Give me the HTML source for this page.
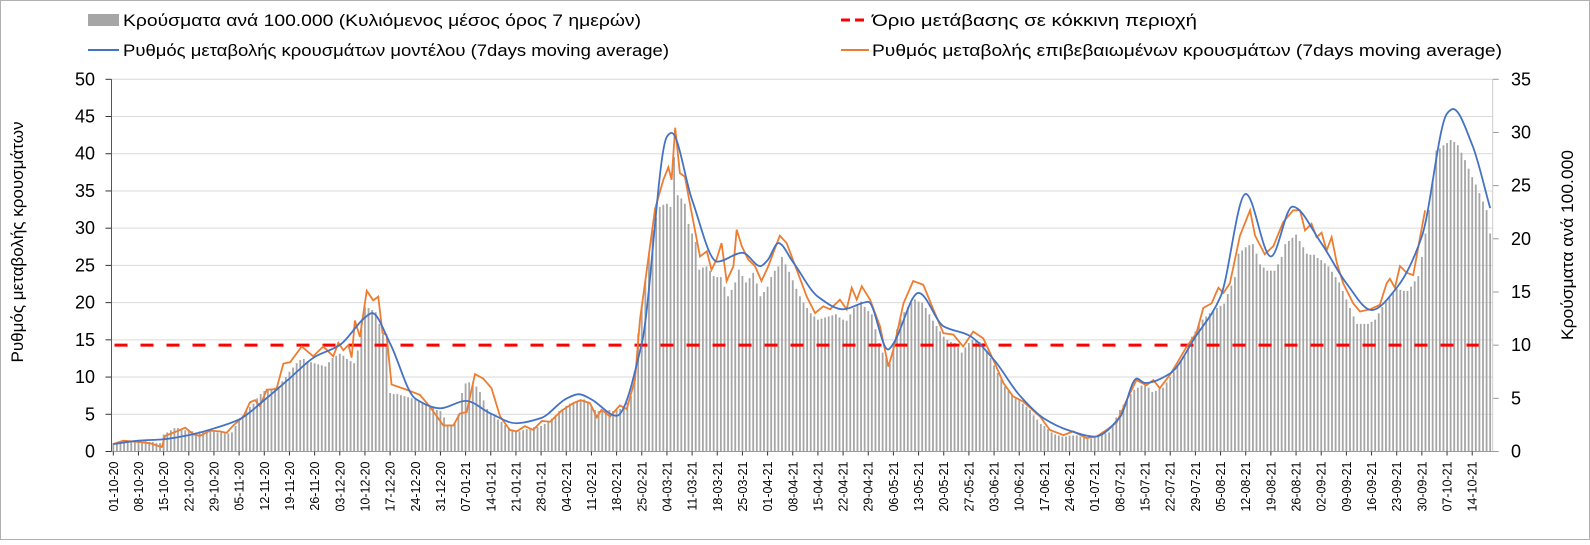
<!DOCTYPE html>
<html><head><meta charset="utf-8">
<style>
body{margin:0;background:#fff;font-family:"Liberation Sans",sans-serif;}
svg text{font-family:"Liberation Sans",sans-serif;}
</style></head>
<body>
<svg id="chart" width="1590" height="540" xmlns="http://www.w3.org/2000/svg">
<rect x="0.5" y="0.5" width="1589" height="539" fill="#fff" stroke="#b0b0b0" stroke-width="1"/>
<g id="grid"></g>
<g id="bars"></g>
<g id="lines"></g>
<g id="axes"></g>
<g>
  <g>
    <rect x="88" y="14" width="31" height="12" fill="#a6a6a6"/>
    <text x="123" y="26" font-size="16.5" fill="#000" textLength="518" lengthAdjust="spacingAndGlyphs">Κρούσματα ανά 100.000 (Κυλιόμενος μέσος όρος 7 ημερών)</text>
  </g>
  <g>
    <line x1="841" y1="20" x2="869" y2="20" stroke="#ff0000" stroke-width="3" stroke-dasharray="9,5"/>
    <text x="872" y="26" font-size="16.5" fill="#000" textLength="325" lengthAdjust="spacingAndGlyphs">Όριο μετάβασης σε κόκκινη περιοχή</text>
  </g>
  <g>
    <line x1="88" y1="50" x2="119" y2="50" stroke="#4472c4" stroke-width="2"/>
    <text x="123" y="56" font-size="16.5" fill="#000" textLength="546" lengthAdjust="spacingAndGlyphs">Ρυθμός μεταβολής κρουσμάτων μοντέλου (7days moving average)</text>
  </g>
  <g>
    <line x1="841" y1="50" x2="869" y2="50" stroke="#ed7d31" stroke-width="2"/>
    <text x="872" y="56" font-size="16.5" fill="#000" textLength="630" lengthAdjust="spacingAndGlyphs">Ρυθμός μεταβολής επιβεβαιωμένων κρουσμάτων (7days moving average)</text>
  </g>
</g>
<text transform="translate(23,242) rotate(-90)" text-anchor="middle" font-size="17" textLength="241" lengthAdjust="spacingAndGlyphs">Ρυθμός μεταβολής κρουσμάτων</text>
<text transform="translate(1573,245) rotate(-90)" text-anchor="middle" font-size="17" textLength="190" lengthAdjust="spacingAndGlyphs">Κρούσματα ανά 100.000</text>
</svg>
<script>
const startDate = [2020, 10, 1];
const leftTicks = [0,5,10,15,20,25,30,35,40,45,50];
const rightTicks = [0,5,10,15,20,25,30,35];
const thresholdValue = 10;
const barVals = [
0.8,0.9,0.9,1.0,0.9,1.0,1.0,1.0,0.9,1.0,
0.9,0.9,0.8,0.8,1.6,1.8,2.0,2.2,2.2,2.1,
2.0,1.9,1.9,1.8,1.9,1.9,1.8,1.9,1.9,1.8,
1.8,1.7,1.7,1.8,2.4,3.0,3.4,3.8,4.2,4.5,
5.0,5.4,5.7,5.8,5.9,6.0,6.1,6.6,7.0,7.5,
7.9,8.3,8.6,8.7,8.5,8.4,8.3,8.2,8.1,8.0,
8.4,8.8,9.0,9.2,9.0,8.7,8.5,8.3,9.5,12.0,
13.6,13.5,13.3,13.1,12.0,11.0,9.9,5.5,5.4,5.4,
5.3,5.2,5.1,5.0,4.9,4.8,4.6,4.4,4.2,4.1,
3.9,3.8,3.2,2.4,2.4,2.6,3.5,5.5,6.4,6.5,
6.3,6.1,5.6,4.8,4.0,3.6,3.3,3.0,2.8,2.5,
2.2,2.0,1.9,1.9,2.0,2.1,2.2,2.3,2.3,2.4,
2.6,2.8,3.1,3.4,3.8,4.0,4.3,4.5,4.6,4.7,
4.8,4.9,4.7,4.3,3.9,3.8,3.9,3.9,3.9,3.8,
3.9,4.0,4.2,4.6,5.2,7.5,11.1,13.8,16.1,18.6,
20.8,22.0,23.0,23.2,23.3,23.0,27.7,24.1,23.8,23.3,
21.4,20.5,19.7,17.1,17.3,17.4,17.0,16.5,16.4,16.4,
15.5,14.6,15.2,15.9,17.1,16.5,15.9,16.3,16.8,15.8,
14.6,15.0,15.5,16.4,17.0,17.4,18.3,17.6,16.9,16.1,
15.3,14.6,14.0,13.5,13.0,12.7,12.4,12.5,12.6,12.7,
12.8,12.9,12.6,12.4,12.3,12.9,13.5,13.8,14.1,13.6,
13.2,12.9,11.5,10.2,9.3,8.8,8.3,10.2,11.5,12.4,
13.1,13.6,14.0,14.3,14.1,14.0,13.5,12.9,12.3,11.8,
11.3,10.8,10.5,10.3,10.2,9.8,9.3,9.8,10.2,10.5,
10.4,10.3,10.2,9.5,8.8,8.1,7.4,6.8,6.1,5.7,
5.3,5.0,4.9,4.5,4.2,3.9,3.4,3.0,2.6,2.4,
2.1,1.8,1.6,1.5,1.4,1.4,1.5,1.5,1.5,1.4,
1.3,1.2,1.2,1.3,1.5,1.6,1.7,1.8,2.5,3.2,
3.9,4.4,4.9,5.4,5.8,6.0,6.2,6.3,6.0,5.6,
5.7,5.9,6.0,6.5,7.0,7.5,8.0,8.5,9.0,9.9,
10.8,11.3,11.9,12.4,12.7,13.0,13.3,13.5,13.7,13.9,
14.8,15.6,16.4,18.6,18.9,19.2,19.4,19.5,18.6,17.6,
17.3,17.0,17.0,17.0,17.6,18.3,19.5,19.8,20.1,20.4,
19.8,19.2,18.6,18.5,18.5,18.2,18.0,17.7,17.4,16.9,
16.4,15.9,15.1,14.3,13.5,12.7,12.0,12.0,12.0,12.0,
12.2,12.4,13.0,13.6,14.1,14.5,14.9,15.3,15.2,15.1,
15.1,15.5,16.0,16.5,18.3,20.5,22.7,25.5,28.3,28.5,
28.8,29.0,29.3,29.1,28.8,28.1,27.4,26.6,25.8,25.1,
24.3,23.5,22.7,20.5];
const blueDays = [0,7,14,21,28,35,42,49,56,63,70,72,77,84,91,98,105,112,119,126,129.5,133,140,147,154,155.3,161,168,175,180,182,185,189,196,203,210,215.5,217,224,231,238,245,252,259,266,273,280,284.7,287,294,301,308,315,322,328,336,343,350,357,364,371,372.7,378,383];
const blueVals = [1.0,1.45,1.65,2.2,3.1,4.3,6.9,9.8,12.7,14.3,18.0,18.6,14.5,7.1,5.8,6.8,5.1,3.8,4.5,7.1,7.7,7.0,4.8,14.5,42.3,42.8,33.8,25.5,26.7,24.9,25.7,28.0,25.5,20.8,19.1,20.1,13.7,14.5,21.3,16.8,15.6,12.3,7.6,4.4,2.8,2.0,4.6,9.8,9.2,10.5,15.4,20.8,34.6,26.2,32.9,28.0,22.6,19.0,22.0,28.9,45.4,46.0,41.2,32.7];
const orangeDays = [0,2.8,7,10.2,13.5,14.4,17.6,20,22.3,24.1,26.9,29.7,31.5,33.4,36.2,38,39.4,40.8,42.7,45.4,47.3,49.2,52.4,55.6,58.4,61.2,62.6,64,65.4,66.3,67.2,68.6,70.5,72.3,73.7,74.9,76,77.4,81.6,85.3,88.1,91.8,94.6,96.4,98.3,100.6,102.9,105.2,107.6,110.3,112.2,114.5,116.8,119.2,121.5,124.7,128,130,132.6,134.5,135.8,138.2,140.9,142.8,145.1,146.5,148.4,150.7,153,154.4,155.3,156.3,157.6,159,160.9,163.2,165.1,166.4,167.8,169.2,170.6,172.5,173.4,174.8,176.6,178.5,180.3,182.2,183.6,185.4,187.3,190.1,192.9,195.2,197.5,199.4,202.1,204,205.4,206.8,208.2,210.5,213.3,215.6,217,219.8,222.5,225.3,228.1,230.9,233.7,236.4,239.2,242,244.8,247.6,250.3,253.1,257.8,260.5,264.3,267,270.7,273.5,276.3,279.1,281.9,284.6,287.4,289.3,291.1,293.9,295.8,298.6,301.3,303.2,305.5,307.4,308.8,310.6,313.4,316.2,317.6,320.3,322.7,325.4,328.2,330.1,331.5,333.3,334.7,336.1,337.5,338.9,340.3,342.1,344.9,346.8,349.6,352.3,354.2,355.1,356.5,357.9,359.8,361.6,363.5,364.9];
const orangeVals = [1.0,1.45,1.3,1.1,0.6,2.1,2.7,3.2,2.3,2.1,2.8,2.7,2.5,3.5,4.7,6.6,6.9,6.1,8.3,8.4,11.8,12.0,14.1,12.8,14.1,12.8,14.6,13.6,14.3,12.6,17.6,15.4,21.6,20.3,20.8,15.9,15.7,9.0,8.3,7.6,6.0,3.5,3.5,5.1,5.3,10.4,9.8,8.5,4.7,2.9,2.7,3.4,2.9,4.1,4.0,5.5,6.5,6.9,6.5,4.6,5.6,4.7,6.2,5.7,9.6,17.7,24.4,32.6,36.5,38.2,36.5,43.5,37.4,36.9,32.0,26.2,26.9,24.4,25.8,28.0,22.9,24.9,29.8,27.6,25.8,24.9,22.9,24.9,26.7,29.0,28.0,24.4,20.8,18.6,19.5,19.1,20.4,19.1,22.0,20.4,22.2,20.4,16.8,11.4,13.7,19.9,22.9,22.4,19.1,15.9,15.7,14.1,16.1,15.2,12.3,9.2,7.4,6.7,4.7,2.9,2.2,2.7,1.8,2.0,2.9,3.9,6.9,9.6,8.9,9.6,8.5,10.3,11.8,14.1,15.9,19.3,19.9,22.0,21.3,22.6,29.0,32.4,29.0,26.5,27.6,30.8,32.4,32.4,29.7,30.6,28.8,29.4,27.0,28.8,25.4,22.6,19.9,18.8,19.1,19.7,22.6,23.2,22.0,24.9,24.0,23.7,28.8,32.4];

const NS = 'http://www.w3.org/2000/svg';
const X0 = 111.5, DX = 3.595, Y0 = 451.5, YTOP = 79.3, XR = 1492.7;
function x(d){ return X0 + DX*(d+0.5); }
function yL(v){ return Y0 - (Y0-YTOP)*v/50; }
function yR(v){ return Y0 - (Y0-YTOP)*v/35; }
function mk(tag, parent){ const e=document.createElementNS(NS,tag); document.getElementById(parent).appendChild(e); return e; }

leftTicks.forEach(t=>{
  const g = mk('line','grid');
  
  
  g.setAttribute('x1',X0); g.setAttribute('x2',XR); g.setAttribute('y1',yL(t)); g.setAttribute('y2',yL(t));
  g.setAttribute('stroke','#d9d9d9'); g.setAttribute('stroke-width','1');
  const tk = mk('line','axes');
  
  
  tk.setAttribute('x1',X0-6); tk.setAttribute('x2',X0); tk.setAttribute('y1',yL(t)); tk.setAttribute('y2',yL(t)); tk.setAttribute('stroke','#333');
  const lb = mk('text','axes');
  
  
  lb.setAttribute('x',95); lb.setAttribute('y',yL(t)+6); lb.setAttribute('text-anchor','end'); lb.setAttribute('font-size','18');
  lb.textContent = t;
});
rightTicks.forEach(t=>{
  const tk = mk('line','axes');
  
  
  tk.setAttribute('x1',XR); tk.setAttribute('x2',XR+6); tk.setAttribute('y1',yR(t)); tk.setAttribute('y2',yR(t)); tk.setAttribute('stroke','#999');
  const lb = mk('text','axes');
  
  
  lb.setAttribute('x',1511); lb.setAttribute('y',yR(t)+6); lb.setAttribute('font-size','18');
  lb.textContent = t;
});
barVals.forEach((v,i)=>{
  const r = mk('rect','bars');
  
  
  r.setAttribute('x',x(i)-0.9); r.setAttribute('width',1.8);
  r.setAttribute('y',yR(v)); r.setAttribute('height',Y0-yR(v));
  r.setAttribute('fill','#a6a6a6');
});
const th = mk('line','lines');


th.setAttribute('x1',X0+3); th.setAttribute('x2',XR-14); th.setAttribute('y1',yR(thresholdValue)); th.setAttribute('y2',yR(thresholdValue));
th.setAttribute('stroke','#ff0000'); th.setAttribute('stroke-width','3'); th.setAttribute('stroke-dasharray','13,13');
function smooth(days, vals){
  const px = days.map(d=>x(d)), py = vals.map(v=>yL(v)), n = px.length;
  const dl = [], m = [];
  for(let i=0;i<n-1;i++) dl.push((py[i+1]-py[i])/(px[i+1]-px[i]));
  m[0]=dl[0]; m[n-1]=dl[n-2];
  for(let i=1;i<n-1;i++){ m[i] = (dl[i-1]*dl[i] <= 0) ? 0 : 2/(1/dl[i-1]+1/dl[i]); }
  let s = 'M'+px[0]+','+py[0];
  for(let i=0;i<n-1;i++){
    const h = (px[i+1]-px[i])/3;
    s += ' C'+(px[i]+h)+','+(py[i]+m[i]*h)+' '+(px[i+1]-h)+','+(py[i+1]-m[i+1]*h)+' '+px[i+1]+','+py[i+1];
  }
  return s;
}
const orange = mk('path','lines');


orange.setAttribute('d', orangeDays.map((d,i)=>(i?'L':'M')+x(d)+','+yL(orangeVals[i])).join(' '));
orange.setAttribute('fill','none'); orange.setAttribute('stroke','#ed7d31'); orange.setAttribute('stroke-width','1.8');
const blue = mk('path','lines');


blue.setAttribute('d', smooth(blueDays, blueVals));
blue.setAttribute('fill','none'); blue.setAttribute('stroke','#4472c4'); blue.setAttribute('stroke-width','1.8');
[[X0,YTOP,X0,Y0,'#555','left-axis-line'],[XR,YTOP,XR,Y0,'#ccc','right-axis-line'],[X0,Y0,XR,Y0,'#999','x-axis-line']].forEach(a=>{
  const l = mk('line','axes');
  
  
  l.setAttribute('x1',a[0]); l.setAttribute('y1',a[1]); l.setAttribute('x2',a[2]); l.setAttribute('y2',a[3]); l.setAttribute('stroke',a[4]);
});
for(let w=0; w*7<barVals.length-3; w++){
  const d = w*7;
  const dt = new Date(startDate[0], startDate[1]-1, startDate[2]+d);
  const lab = String(dt.getDate()).padStart(2,'0')+'-'+String(dt.getMonth()+1).padStart(2,'0')+'-'+String(dt.getFullYear()).slice(2);
  const tk = mk('line','axes');
  
  
  tk.setAttribute('x1',x(d)); tk.setAttribute('x2',x(d)); tk.setAttribute('y1',Y0); tk.setAttribute('y2',Y0+4); tk.setAttribute('stroke','#333');
  const t = mk('text','axes');
  
  
  t.setAttribute('transform','translate('+(x(d)+4.5)+','+(Y0+10)+') rotate(-90)');
  t.setAttribute('text-anchor','end'); t.setAttribute('font-size','12.5');
  t.textContent = lab;
}
</script>
</body></html>
